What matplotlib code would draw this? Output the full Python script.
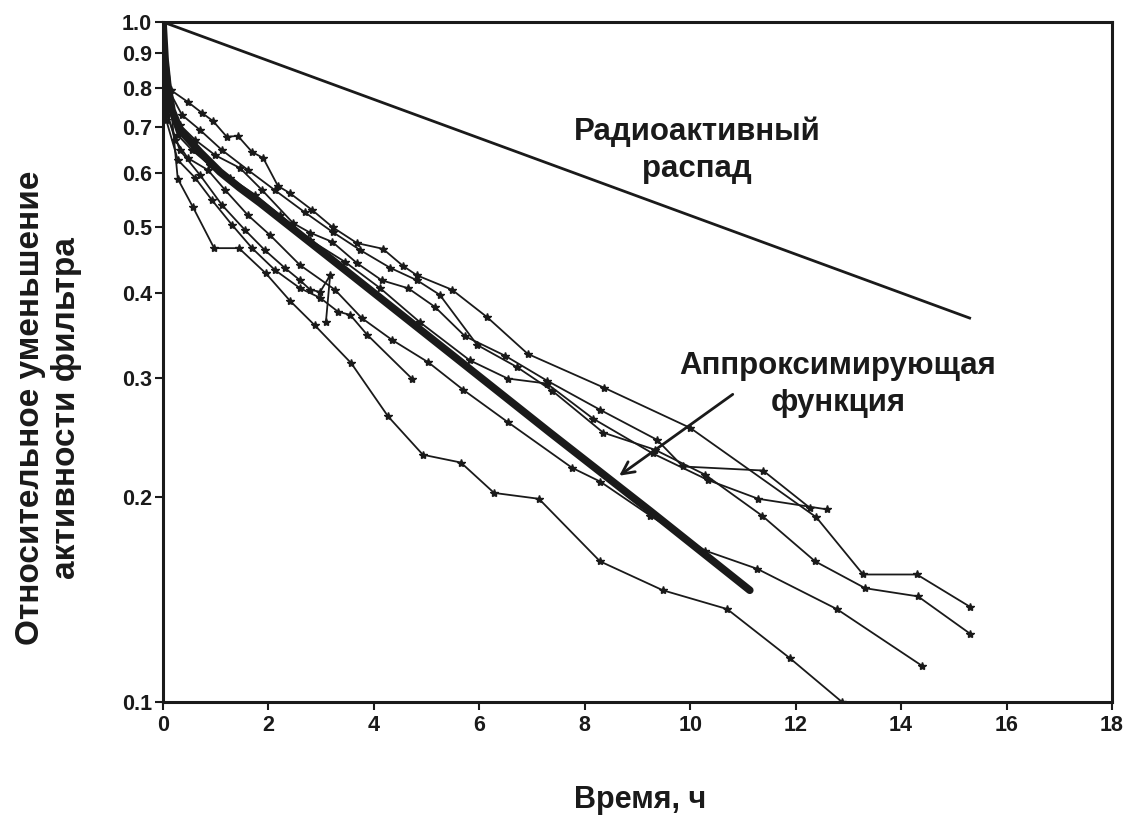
import matplotlib
matplotlib.use("Agg")
import matplotlib.pyplot as plt
from matplotlib.ticker import FixedLocator, NullLocator, FixedFormatter

plt.rcParams['font.family'] = ['Liberation Sans', 'DejaVu Sans']

# ---- data (time in hours, relative filter activity) ----
decay_x = [0.0, 15.3]
decay_y = [1.0, 0.367]

fit_x = [0.0, 0.04, 0.09, 0.17, 0.32, 0.70, 1.08, 1.46, 1.84, 3.55, 5.44, 7.34, 9.24, 11.13]
fit_y = [1.0, 0.879, 0.808, 0.742, 0.694, 0.644, 0.602, 0.570, 0.542, 0.426, 0.326, 0.249, 0.191, 0.146]

a_x = [0, 0.15, 0.47, 0.74, 0.95, 1.21, 1.42, 1.69, 1.90, 2.18, 2.41, 2.83, 3.22, 3.68, 4.17, 4.55,
       4.82, 5.48, 6.15, 6.92, 8.36, 10.0, 12.39, 13.28, 14.30, 15.31]
a_y = [1.0, 0.794, 0.763, 0.735, 0.715, 0.678, 0.680, 0.644, 0.631, 0.574, 0.560, 0.529, 0.499, 0.473,
       0.464, 0.438, 0.424, 0.404, 0.368, 0.325, 0.290, 0.253, 0.187, 0.154, 0.154, 0.138]

b_x = [0, 0.11, 0.36, 0.70, 1.12, 1.61, 2.12, 2.69, 3.22, 3.74, 4.31, 4.82, 5.25, 5.96, 6.71, 7.38,
       8.35, 9.33, 10.28, 11.36, 12.37, 13.32, 14.32, 15.31]
b_y = [1.0, 0.794, 0.730, 0.694, 0.648, 0.606, 0.566, 0.525, 0.491, 0.462, 0.435, 0.417, 0.397, 0.335,
       0.311, 0.287, 0.249, 0.235, 0.216, 0.188, 0.161, 0.147, 0.143, 0.126]

c_x = [0, 0.11, 0.32, 0.61, 0.99, 1.46, 1.88, 2.47, 2.79, 3.21, 3.68, 4.15, 4.65, 5.16, 5.73, 6.49,
       7.28, 8.29, 9.37, 9.86, 11.38, 12.27]
c_y = [1.0, 0.768, 0.706, 0.671, 0.637, 0.610, 0.566, 0.506, 0.490, 0.475, 0.442, 0.417, 0.406, 0.381,
       0.345, 0.323, 0.297, 0.269, 0.243, 0.222, 0.219, 0.193]

g_x = [0, 0.08, 0.28, 0.55, 0.89, 1.27, 1.75, 2.22, 2.79, 3.45, 4.12, 4.87, 5.82, 6.54, 7.28, 8.16,
       9.29, 10.34, 11.29, 12.59]
g_y = [1.0, 0.755, 0.682, 0.648, 0.616, 0.590, 0.557, 0.520, 0.478, 0.444, 0.406, 0.362, 0.318, 0.299,
       0.294, 0.261, 0.232, 0.212, 0.199, 0.192]

l_x = [0, 0.06, 0.23, 0.47, 0.85, 1.18, 1.61, 2.03, 2.60, 3.26, 3.77, 4.34, 5.03, 5.69, 6.54, 7.76,
       8.29, 9.24, 10.28, 11.27, 12.78, 14.40]
l_y = [1.0, 0.742, 0.671, 0.631, 0.606, 0.566, 0.520, 0.486, 0.439, 0.404, 0.367, 0.341, 0.316, 0.288,
       0.258, 0.221, 0.211, 0.188, 0.167, 0.157, 0.137, 0.113]

d_x = [0, 0.28, 0.57, 0.97, 1.44, 1.95, 2.41, 2.88, 3.57, 4.27, 4.93, 5.65, 6.28, 7.13, 8.29, 9.48,
       10.70, 11.89, 12.88]
d_y = [1.0, 0.588, 0.534, 0.465, 0.465, 0.427, 0.389, 0.358, 0.315, 0.263, 0.231, 0.225, 0.203, 0.199,
       0.161, 0.146, 0.137, 0.116, 0.100]

e_x = [0, 0.06, 0.28, 0.61, 0.93, 1.31, 1.69, 2.12, 2.60, 2.98, 3.32, 3.55, 3.87, 4.72]
e_y = [1.0, 0.718, 0.627, 0.590, 0.547, 0.503, 0.465, 0.432, 0.406, 0.393, 0.375, 0.371, 0.347, 0.299]

f_x = [0, 0.08, 0.32, 0.70, 1.12, 1.56, 1.93, 2.31, 2.60, 2.79, 2.98, 3.17, 3.09]
f_y = [1.0, 0.730, 0.648, 0.596, 0.538, 0.494, 0.462, 0.435, 0.417, 0.404, 0.401, 0.424, 0.362]

measured = [(a_x, a_y), (b_x, b_y), (c_x, c_y), (g_x, g_y), (l_x, l_y),
            (d_x, d_y), (e_x, e_y), (f_x, f_y)]

y_ticks = [0.1, 0.2, 0.3, 0.4, 0.5, 0.6, 0.7, 0.8, 0.9, 1.0]
y_tick_labels = ["0.1", "0.2", "0.3", "0.4", "0.5", "0.6", "0.7", "0.8", "0.9", "1.0"]
x_ticks = [0, 2, 4, 6, 8, 10, 12, 14, 16, 18]

# ---- figure ----
fig = plt.figure(figsize=(11.28, 8.16), dpi=100)
ax = fig.add_axes([0.1445, 0.1397, 0.8413, 0.8333])
ink = '#1a1a1a'

for xs, ys in measured:
    ax.plot(xs, ys, color=ink, lw=1.3, marker='*', ms=6, mfc=ink, mec=ink, clip_on=True)

ax.plot(fit_x, fit_y, color=ink, lw=5.5, solid_capstyle='round', solid_joinstyle='round')
ax.plot(decay_x, decay_y, color=ink, lw=2.0)

ax.set_yscale('log')
ax.set_xlim(0, 18)
ax.set_ylim(0.1, 1.0)
ax.yaxis.set_major_locator(FixedLocator(y_ticks))
ax.yaxis.set_major_formatter(FixedFormatter(y_tick_labels))
ax.yaxis.set_minor_locator(NullLocator())
ax.set_xticks(x_ticks)

for s in ax.spines.values():
    s.set_linewidth(2.2)
    s.set_color(ink)
ax.tick_params(axis='both', direction='out', length=6, width=1.5, colors=ink,
               labelsize=15.5, pad=2)
ax.tick_params(axis='x', pad=3)
for lab in ax.get_xticklabels() + ax.get_yticklabels():
    lab.set_fontweight('bold')

ax.set_xlabel("Время, ч", fontsize=22, fontweight='bold', color=ink, va='center')
ax.xaxis.set_label_coords(0.5026, -0.144)
ax.set_ylabel("Относительное уменьшение\nактивности фильтра", fontsize=24,
              fontweight='bold', color=ink, linespacing=1.2, va='center')
ax.yaxis.set_label_coords(-0.121, 0.432)

ax.text(10.13, 0.648, "Радиоактивный\nраспад", fontsize=22.5, fontweight='bold',
        ha='center', va='center', color=ink, linespacing=1.3)
ax.text(12.8, 0.293, "Аппроксимирующая\nфункция", fontsize=22.5, fontweight='bold',
        ha='center', va='center', color=ink, linespacing=1.3)
ax.annotate("", xy=(8.61, 0.214), xytext=(10.85, 0.285),
            arrowprops=dict(arrowstyle='->', color=ink, lw=2.0, mutation_scale=22))

fig.savefig("out.png", dpi=100)
